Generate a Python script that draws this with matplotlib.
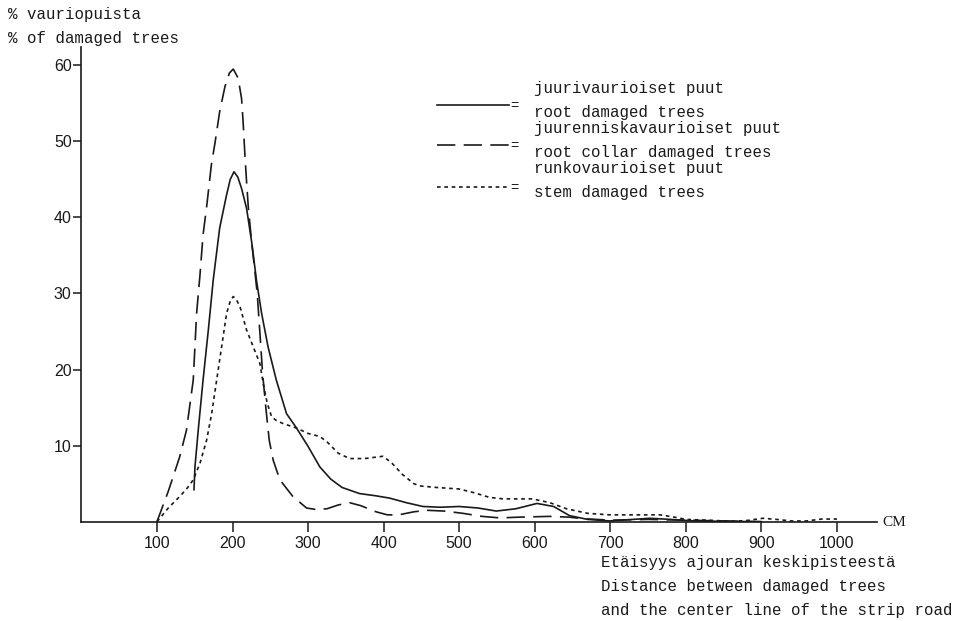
import matplotlib
matplotlib.use("Agg")
import matplotlib.pyplot as plt
from matplotlib.lines import Line2D

# ---- data ----
root_x = [149, 150.3, 154.6, 161, 168, 174.5, 183, 192, 197, 202, 207, 212, 218.6, 225.3, 231.9,
          238.5, 247, 258, 271.5, 284.8, 300, 315.6, 330, 345, 368, 390, 408, 430, 452, 475,
          500, 525, 549, 575, 603, 625, 646, 670, 699, 730, 752, 780, 810, 850, 900]
root_y = [4.2, 7.2, 12.0, 18.6, 25.2, 31.8, 38.6, 42.9, 45.0, 46.0, 45.3, 43.8, 41.2, 36.8, 31.6,
          27.4, 23.0, 18.6, 14.2, 12.3, 9.9, 7.2, 5.6, 4.5, 3.7, 3.4, 3.1, 2.5, 2.0, 1.9,
          2.0, 1.8, 1.4, 1.7, 2.4, 2.0, 0.8, 0.3, 0.1, 0.3, 0.45, 0.3, 0.1, 0.05, 0.0]

collar_x = [100, 115, 130, 139, 148, 152.5, 157, 161, 166, 172, 177, 183, 190, 196, 201, 207.5,
            212, 214, 216.4, 218.6, 221, 225.3, 229.6, 232.7, 236, 239.8, 244, 248.6, 253.8,
            262.7, 280, 298, 311, 325, 340, 355, 370, 390, 405, 420, 440, 457, 480, 505, 530,
            554, 580, 620, 645, 664, 700, 750, 800, 850, 900]
collar_y = [0.0, 4.0, 8.5, 12.0, 18.6, 27.4, 32.5, 37.7, 41.6, 46.9, 49.9, 53.9, 57.2, 59.0, 59.5, 58.3,
            55.6, 52.6, 48.2, 44.7, 41.2, 36.8, 32.9, 30.0, 25.2, 19.5, 15.1, 10.7, 8.1,
            5.5, 3.3, 1.8, 1.6, 1.7, 2.2, 2.5, 2.1, 1.3, 0.9, 0.9, 1.3, 1.5, 1.4, 1.1, 0.7,
            0.5, 0.6, 0.7, 0.6, 0.4, 0.2, 0.3, 0.2, 0.1, 0.0]

stem_x = [100, 115, 130, 140, 148, 157, 165.7, 172.4, 179, 185.6, 192.2, 197, 201, 205, 209.8,
          218.6, 227.4, 236.2, 241.5, 245.9, 251.7, 258, 267, 285, 300, 315.6, 325, 340, 355,
          375, 399, 410, 425, 440, 448, 470, 500, 520, 540, 558, 580, 597, 620, 642, 670,
          699, 730, 766, 785, 800, 830, 860, 880, 902, 920, 940, 960, 980, 1000]
stem_y = [0.0, 1.8, 3.3, 4.4, 5.5, 7.7, 10.7, 14.2, 18.6, 23.0, 27.4, 29.0, 29.6, 29.2, 28.3,
          25.2, 23.0, 20.8, 17.7, 15.6, 13.8, 13.3, 12.9, 12.3, 11.6, 11.2, 10.5, 9.0, 8.3,
          8.3, 8.6, 7.8, 6.2, 5.0, 4.7, 4.5, 4.3, 3.8, 3.2, 3.0, 3.0, 3.0, 2.5, 1.7, 1.1,
          0.9, 0.9, 0.9, 0.6, 0.3, 0.2, 0.05, 0.15, 0.45, 0.3, 0.1, 0.1, 0.35, 0.35]

x_ticks = [100, 200, 300, 400, 500, 600, 700, 800, 900, 1000]
y_ticks = [10, 20, 30, 40, 50, 60]

legend_fi = ["juurivaurioiset puut", "juurenniskavaurioiset puut", "runkovaurioiset puut"]
legend_en = ["root damaged trees", "root collar damaged trees", "stem damaged trees"]

W, H = 961, 621
fig = plt.figure(figsize=(W / 100, H / 100), dpi=100)
L, R, B, T = 81.4, 877, 521.7, 47
ax = fig.add_axes([L / W, 1 - B / H, (R - L) / W, (B - T) / H])

col = "#1a1a1a"
lw = 1.2
styles = [dict(ls="-"), dict(ls=(0, (11, 5))), dict(ls=(0, (2.2, 2.2)))]

ax.plot(root_x, root_y, color=col, lw=lw, solid_joinstyle="round", **styles[0])
ax.plot(collar_x, collar_y, color=col, lw=lw, **styles[1])
ax.plot(stem_x, stem_y, color=col, lw=lw, **styles[2])

ax.set_xlim(0, 1053)
ax.set_ylim(0, 62.4)
for s in ["top", "right"]:
    ax.spines[s].set_visible(False)
for s in ["left", "bottom"]:
    ax.spines[s].set_color(col)
    ax.spines[s].set_linewidth(1.2)

ax.set_xticks(x_ticks)
ax.set_xticklabels([str(v) for v in x_ticks], fontfamily="Liberation Sans", fontsize=11.5)
ax.set_yticks(y_ticks)
ax.set_yticklabels([str(v) for v in y_ticks], fontfamily="Liberation Sans", fontsize=11.5)
ax.tick_params(axis="x", length=7, width=1.1, colors=col, pad=3)
ax.tick_params(axis="y", length=6, width=1.1, colors=col, pad=1)

mono = "Liberation Mono"
fs = 11.3

def ft(x, y, s, **kw):
    fig.text(x / W, 1 - y / H, s, va="center", ha="left", color=col, **kw)

ft(8, 15, "% vauriopuista", fontfamily=mono, fontsize=fs)
ft(8, 39, "% of damaged trees", fontfamily=mono, fontsize=fs)

ft(601, 562, "Etäisyys ajouran keskipisteestä", fontfamily=mono, fontsize=fs)
ft(601, 587, "Distance between damaged trees", fontfamily=mono, fontsize=fs)
ft(601, 611, "and the center line of the strip road", fontfamily=mono, fontsize=fs)
ft(882, 523, "CM", fontfamily="Liberation Serif", fontsize=11)

# legend
line_y = [105, 145, 187]
text_y = [(88, 112), (128, 152), (168, 192)]
for i in range(3):
    fig.add_artist(Line2D([437 / W, 509 / W], [1 - line_y[i] / H] * 2,
                          color=col, lw=lw, **styles[i]))
    ft(510, line_y[i] + 1.5, "=", fontfamily=mono, fontsize=10)
    ft(534, text_y[i][0], legend_fi[i], fontfamily=mono, fontsize=fs)
    ft(534, text_y[i][1], legend_en[i], fontfamily=mono, fontsize=fs)

fig.savefig("out.png", dpi=100)
